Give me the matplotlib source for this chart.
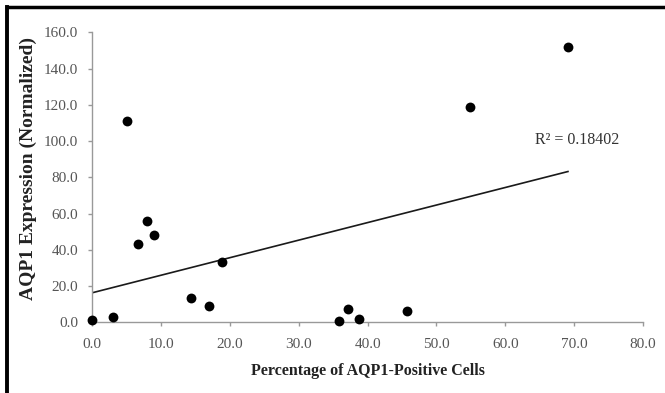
import numpy as np
import matplotlib
matplotlib.use("Agg")
import matplotlib.pyplot as plt
from matplotlib.lines import Line2D

# Data
pct_positive = [0.0, 3.0, 5.1, 6.7, 8.0, 9.0, 14.4, 17.0, 18.8,
                35.9, 37.1, 38.7, 45.7, 54.9, 69.1]
aqp1_expr = [1.1, 3.1, 111.0, 43.0, 55.9, 48.0, 13.2, 9.0, 33.1,
             0.9, 7.3, 2.0, 6.2, 119.0, 152.0]
# Linear trendline as drawn in the reference (intercept, slope)
trend_intercept = 16.3
trend_slope = 0.968
x_ticks = [0, 10, 20, 30, 40, 50, 60, 70, 80]
y_ticks = [0, 20, 40, 60, 80, 100, 120, 140, 160]
r2_label = "R² = 0.18402"
x_label = "Percentage of AQP1-Positive Cells"
y_label = "AQP1 Expression (Normalized)"

plt.rcParams['font.family'] = ['Liberation Serif', 'DejaVu Serif']

fig = plt.figure(figsize=(6.65, 3.93), dpi=100)
ax = fig.add_axes([0.1388, 0.1799, 0.9669 - 0.1388, 0.9178 - 0.1799])

x = np.array(pct_positive)
y = np.array(aqp1_expr)
ax.scatter(x, y, s=50, color='black', zorder=3, linewidths=0, clip_on=False)

xl = np.array([0.0, x.max()])
ax.plot(xl, trend_intercept + trend_slope * xl, color='#1a1a1a', lw=1.2, zorder=2)

ax.set_xlim(0, 80)
ax.set_ylim(0, 160)
ax.set_xticks(x_ticks)
ax.set_yticks(y_ticks)
ax.set_xticklabels([f"{v:.1f}" for v in x_ticks])
ax.set_yticklabels([f"{v:.1f}" for v in y_ticks])

gray = '#999999'
for s in ['top', 'right']:
    ax.spines[s].set_visible(False)
for s in ['left', 'bottom']:
    ax.spines[s].set_color(gray)
    ax.spines[s].set_linewidth(1.0)
ax.tick_params(axis='both', direction='out', length=3, width=1.0, color=gray,
               labelcolor='#555555', labelsize=11)
ax.tick_params(axis='x', pad=8)
ax.tick_params(axis='y', pad=7)

ax.set_xlabel(x_label, fontsize=11.5, fontweight='bold', color='#222222', labelpad=9)
ax.set_ylabel(y_label, fontsize=14, fontweight='bold', color='#222222')
ax.yaxis.set_label_coords(-0.1, 0.53)

ax.text(64.3, 100.6, r2_label, fontsize=11.5, color='#333333', ha='left', va='center')

# Frame (top and left edges visible in the reference)
fig.add_artist(Line2D([0.0105, 1.0], [0.983, 0.983], transform=fig.transFigure,
                      color='black', lw=2.5))
fig.add_artist(Line2D([0.0105, 0.0105], [0.0, 0.983], transform=fig.transFigure,
                      color='black', lw=2.8))

fig.savefig("out.png", dpi=100)
